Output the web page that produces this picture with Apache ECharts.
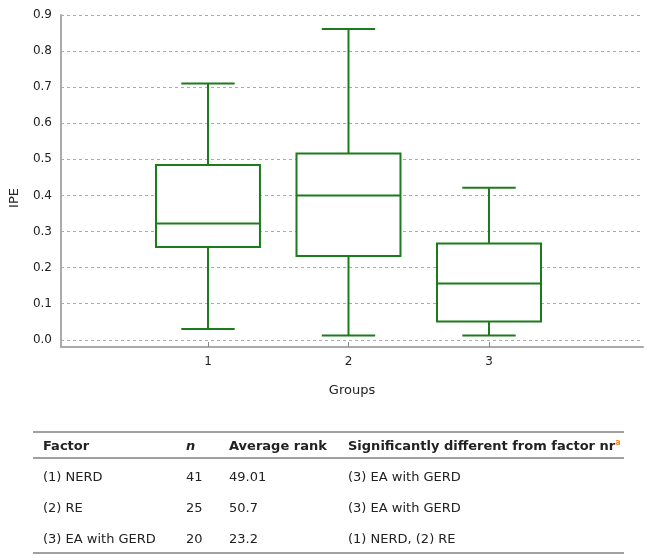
<!DOCTYPE html>
<html>
<head>
<meta charset="utf-8">
<script src="https://cdn.jsdelivr.net/npm/echarts@6/dist/echarts.min.js"></script>
<style>
	html, body { margin: 0; padding: 0; background: #fff; }
	#wrap { position: relative; width: 650px; height: 558px; }
	#box { position: absolute; left: 0; top: 0; width: 650px; height: 558px; }
	#tbl {
		position: absolute; left: 33px; top: 431px; width: 591px;
		border-collapse: collapse; font-family: "DejaVu Sans", Verdana, sans-serif;
		font-size: 13px; color: #222;
	}
	#tbl th { font-weight: bold; text-align: left; height: 23px; padding: 1px 0 0 0;
		border-top: 2px solid #a0a0a0; border-bottom: 2px solid #a0a0a0; }
	#tbl td { height: 28px; padding: 3px 0 0 0; }
	#tbl tr:last-child td { border-bottom: 2px solid #a0a0a0; }
	#tbl .c1 { padding-left: 10px; width: 143px; }
	#tbl .c2 { width: 43px; }
	#tbl .c3 { width: 119px; }
	#tbl sup { color: #f08a24; font-size: 8px; }
</style>
</head>
<body>
<div id="wrap">
	<div id="box"></div>
	<table id="tbl">
		<thead><tr>
			<th class="c1">Factor</th><th class="c2"><i>n</i></th><th class="c3">Average rank</th>
			<th>Significantly different from factor nr<sup>a</sup></th>
		</tr></thead>
		<tbody id="tbody"></tbody>
	</table>
</div>
<script>
// 箱线图数据
var groups = [1, 2, 3];
var mins = [0.030, 0.012, 0.012];
var q1s = [0.257, 0.232, 0.051];
var medians = [0.322, 0.400, 0.156];
var q3s = [0.484, 0.516, 0.267];
var maxs = [0.710, 0.861, 0.421];

// 表格数据
var factors = ['(1) NERD', '(2) RE', '(3) EA with GERD'];
var ns = [41, 25, 20];
var ranks = ['49.01', '50.7', '23.2'];
var diffs = ['(3) EA with GERD', '(3) EA with GERD', '(1) NERD, (2) RE'];

(function() {
	var html = '';
	for (var i = 0; i < factors.length; i++) {
		html += '<tr><td class="c1">' + factors[i] + '</td><td class="c2">' + ns[i] +
			'</td><td class="c3">' + ranks[i] + '</td><td>' + diffs[i] + '</td></tr>';
	}
	document.getElementById('tbody').innerHTML = html;
})();

var myChart = echarts.init(document.getElementById('box'));

var boxData = groups.map(function(g, i) {
	return [g, mins[i], q1s[i], medians[i], q3s[i], maxs[i]];
});

var green = '#1c7c1c';
var boxHalf = 0.37; // 箱体半宽（x 轴单位）
var capHalf = 0.19;

function renderBox(params, api) {
	var x = api.value(0);
	var pMin = api.coord([x, api.value(1)]);
	var pQ1 = api.coord([x, api.value(2)]);
	var pMed = api.coord([x, api.value(3)]);
	var pQ3 = api.coord([x, api.value(4)]);
	var pMax = api.coord([x, api.value(5)]);
	var bw = api.size([boxHalf, 0])[0];
	var cw = api.size([capHalf, 0])[0];
	var cx = pMed[0];
	var st = { stroke: green, lineWidth: 2, fill: null };
	function line(x1, y1, x2, y2) {
		return { type: 'line', shape: { x1: x1, y1: y1, x2: x2, y2: y2 }, style: st };
	}
	return {
		type: 'group',
		children: [
			line(cx, pQ3[1], cx, pMax[1]),
			line(cx, pQ1[1], cx, pMin[1]),
			line(cx - cw, pMax[1], cx + cw, pMax[1]),
			line(cx - cw, pMin[1], cx + cw, pMin[1]),
			{
				type: 'rect',
				shape: { x: cx - bw, y: pQ3[1], width: bw * 2, height: pQ1[1] - pQ3[1] },
				style: { stroke: green, lineWidth: 2, fill: '#fff' }
			},
			line(cx - bw, pMed[1], cx + bw, pMed[1])
		]
	};
}

var option = {
	animation: false,
	textStyle: { fontFamily: 'DejaVu Sans' },
	grid: { left: 61, right: 7, top: 15, bottom: 211 },
	xAxis: {
		type: 'value',
		min: -0.046,
		max: 4.096,
		name: 'Groups',
		nameLocation: 'middle',
		nameGap: 37,
		nameTextStyle: { color: '#222', fontSize: 13 },
		axisLine: { show: true, onZero: false, lineStyle: { color: '#aaa', width: 2 } },
		axisTick: { show: true, inside: true, length: 5, customValues: groups, lineStyle: { color: '#888' } },
		axisLabel: { customValues: groups, color: '#222', fontSize: 12, margin: 9 },
		splitLine: { show: false }
	},
	yAxis: {
		type: 'value',
		min: -0.02,
		max: 0.9,
		splitNumber: 9,
		name: 'IPE',
		nameLocation: 'middle',
		nameGap: 40,
		nameTextStyle: { color: '#222', fontSize: 13, padding: [0, 34, 0, 0] },
		axisLine: { show: true, onZero: false, lineStyle: { color: '#aaa', width: 2 } },
		axisTick: { show: false },
		axisLabel: {
			color: '#222', fontSize: 12, margin: 9,
			formatter: function(v) { return v < -0.001 ? '' : Math.abs(v).toFixed(1); }
		},
		splitLine: { show: true, lineStyle: { color: '#aaa', type: [3, 3], width: 1 } }
	},
	series: [{
		type: 'custom',
		renderItem: renderBox,
		encode: { x: 0, y: [1, 2, 3, 4, 5] },
		data: boxData,
		z: 3
	}]
};

myChart.setOption(option);
</script>
</body>
</html>
